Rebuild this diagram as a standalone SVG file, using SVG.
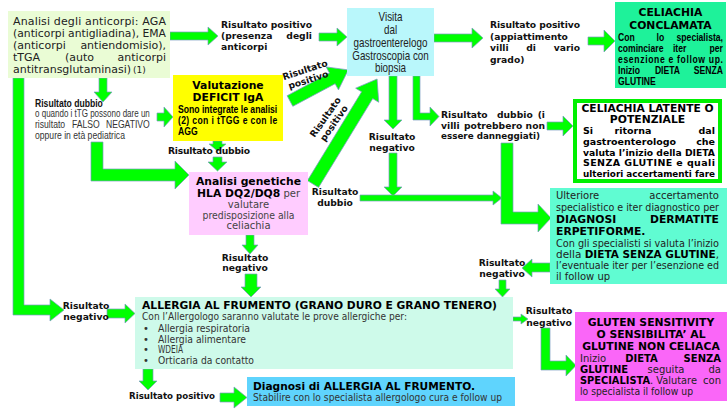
<svg xmlns="http://www.w3.org/2000/svg" width="728" height="410" viewBox="0 0 728 410">
<style>
text{font-family:"DejaVu Sans",Verdana,sans-serif}
.n text{font-family:"Liberation Sans",Arial,sans-serif}
.a{fill:#00ff00;stroke:#7a9cc0;stroke-width:0.7}
.lb{font-weight:bold;font-size:9.2px;fill:#111}
.tt{font-weight:bold;font-size:10.8px;fill:#000}
.m{text-anchor:middle}
.e{text-anchor:end}
</style>
<rect width="728" height="410" fill="#ffffff"/>
<g id="connectors">
<polygon class="a" points="170,32 208,32 208,27 218,36 208,45 208,40 170,40"/>
<polygon class="a" points="319,33 337,33 337,28 347,37 337,46 337,41 319,41"/>
<polygon class="a" points="434,34 472,34 472,28 483,38 472,48 472,42 434,42"/>
<polygon class="a" points="588,37 604,37 604,30 615,41 604,52 604,45 588,45"/>
<polygon class="a" points="99,78 107,78 107,92 112,92 103,102 94,92 99,92"/>
<polygon class="a" points="13,78 24,78 24,305 50,305 50,299 64,310 50,321 50,315 13,315"/>
<polygon class="a" points="157,113 164,113 164,107 173,117 164,127 164,121 157,121"/>
<polygon class="a" points="91,142 103,142 103,169 175,169 175,161 189,175 175,189 175,181 91,181"/>
<polygon class="a" points="213,141 222,141 222,144 226,144 217.5,151 209,144 213,144"/>
<polygon class="a" points="213,157 222,157 222,162 227,162 217.5,171 208,162 213,162"/>
<polygon class="a" transform="translate(290 101) rotate(-28.1)" points="0,-6 48,-6 48,-13 66,0 48,13 48,6 0,6"/>
<polygon class="a" transform="translate(313 184) rotate(-58.6)" points="0,-6.5 104,-6.5 104,-13.5 123,0 104,13.5 104,6.5 0,6.5"/>
<polygon class="a" points="389,76 397,76 397,120 402,120 393,129 384,120 389,120"/>
<polygon class="a" points="389,153 397,153 397,187 402,187 393,196 384,187 389,187"/>
<polygon class="a" points="360,195 493,195 493,191 502,198 493,205 493,201 360,201"/>
<polygon class="a" points="413,76 420,76 420,113 430,113 430,107 439,116.5 430,126 430,120 413,120"/>
<polygon class="a" points="547,122 563,122 563,116 573,126 563,136 563,130 547,130"/>
<polygon class="a" points="501,143 513,143 513,212 538,212 538,204 551,218 538,232 538,224 501,224"/>
<polygon class="a" points="550,263 532,263 532,259 522,268 532,277 532,272 550,272"/>
<polygon class="a" points="499,280 506,280 506,289 510,289 502.5,297 495,289 499,289"/>
<polygon class="a" points="513,317 521,317 521,314 528,319 521,324 521,321 513,321"/>
<polygon class="a" points="541,328 550,328 550,361 566,361 566,355 576,365.5 566,376 566,370 541,370"/>
<polygon class="a" points="143,369 153,369 153,381 157,381 148,390 139,381 143,381"/>
<polygon class="a" points="220,393 234,393 234,387 247,397.5 234,408 234,402 220,402"/>
<polygon class="a" points="107,309 125,309 125,304 135,313.5 125,323 125,318 107,318"/>
<polygon class="a" points="246,235 254,235 254,245 258,245 250,254 242,245 246,245"/>
<polygon class="a" points="245,274 257,274 257,287 261,287 251,297 241,287 245,287"/>
</g>
<g id="n-anticorpi">
<rect x="8" y="11" width="162" height="67" fill="#EAFCD5"/>
<g font-size="11" fill="#222">
<text x="13" y="25" textLength="153" lengthAdjust="spacing">Analisi degli anticorpi: AGA</text>
<text x="13" y="37" textLength="153" lengthAdjust="spacingAndGlyphs">(anticorpi antigliadina), EMA</text>
<text x="13" y="49">(anticorpi</text><text x="166" y="49" class="e">antiendomisio),</text>
<text x="13" y="61">tTGA</text><text x="65" y="61">(auto</text><text x="166" y="61" class="e">anticorpi</text>
<text x="13" y="73">antitransglutaminasi)<tspan font-size="9" dx="2">(1)</tspan></text>
</g>
</g>
<g id="n-visita">
<rect x="347" y="8" width="87" height="68" fill="#B9F7FB"/>
<g class="n" transform="translate(390.5 0) scale(0.82 1)" font-size="12" fill="#222" text-anchor="middle">
<text y="21">Visita</text><text y="34">dal</text><text y="47">gastroenterelogo</text><text y="60">Gastroscopia con</text><text y="72">biopsia</text>
</g>
</g>
<g id="n-conclamata">
<rect x="615" y="2" width="111" height="86" fill="#1EF29A"/>
<text x="670.5" y="16" class="tt m">CELIACHIA</text>
<text x="670.5" y="29" class="tt m">CONCLAMATA</text>
<g class="n" transform="translate(618 0) scale(0.82 1)" font-size="10.5" font-weight="bold" fill="#000">
<text x="0" y="41.5">Con</text><text x="47" y="41.5">lo</text><text x="128" y="41.5" text-anchor="end">specialista,</text>
<text x="0" y="52.3">cominciare</text><text x="67" y="52.3">iter</text><text x="128" y="52.3" text-anchor="end">per</text>
<text x="0" y="63.1" textLength="128" lengthAdjust="spacing">esenzione e follow up.</text>
<text x="0" y="73.9">Inizio</text><text x="45" y="73.9">DIETA</text><text x="128" y="73.9" text-anchor="end">SENZA</text>
<text x="0" y="84.7">GLUTINE</text>
</g>
</g>
<g id="n-deficit">
<rect x="173" y="75" width="110" height="66" fill="#FFFF00"/>
<text x="228" y="88.5" class="tt m">Valutazione</text>
<text x="228" y="101" class="tt m">DEFICIT IgA</text>
<g class="n" transform="translate(178 0) scale(0.82 1)" font-size="10.5" font-weight="bold" fill="#000">
<text y="113.5" textLength="121" lengthAdjust="spacingAndGlyphs">Sono integrate le analisi</text>
<text y="124.3" textLength="121" lengthAdjust="spacing">(2) con i tTGG e con le</text>
<text y="134.8">AGG</text>
</g>
</g>
<g id="n-genetiche">
<rect x="189" y="172" width="119" height="63" fill="#FFCCFF"/>
<text x="248.5" y="185" class="tt m">Analisi genetiche</text>
<text x="197" y="196.5" class="tt">HLA DQ2/DQ8<tspan font-weight="normal" fill="#444" font-size="10"> per</tspan></text>
<text x="248.5" y="207.5" class="m" font-size="10" fill="#444">valutare</text>
<text x="248.5" y="218.5" class="m" font-size="10" fill="#444" textLength="92" lengthAdjust="spacingAndGlyphs">predisposizione alla</text>
<text x="248.5" y="229" class="m" font-size="10" fill="#444">celiachia</text>
</g>
<g id="n-latente">
<rect x="575" y="101" width="145" height="80" fill="#ffffff" stroke="#00F000" stroke-width="4"/>
<text x="647.5" y="111.5" class="tt m" font-size="10.3" textLength="132" lengthAdjust="spacingAndGlyphs">CELIACHIA LATENTE O</text>
<text x="647.5" y="123" class="tt m" font-size="10.3">POTENZIALE</text>
<g font-size="9.5" font-weight="bold" fill="#000">
<text x="583" y="134">Si</text><text x="633" y="134" text-anchor="middle">ritorna</text><text x="715" y="134" text-anchor="end">dal</text>
<text x="583" y="144.8">gastroenterologo</text><text x="715" y="144.8" text-anchor="end">che</text>
<text x="583" y="155.6" textLength="132" lengthAdjust="spacingAndGlyphs">valuta l’inizio della DIETA</text>
<text x="583" y="166.4" textLength="132" lengthAdjust="spacing">SENZA GLUTINE e quali</text>
<text x="583" y="177.2" textLength="132" lengthAdjust="spacingAndGlyphs">ulteriori accertamenti fare</text>
</g>
</g>
<g id="n-dermatite">
<rect x="550" y="188" width="177" height="96" fill="#60FCD2"/>
<g font-size="10" fill="#222">
<text x="556" y="199">Ulteriore</text><text x="719" y="199" text-anchor="end">accertamento</text>
<text x="556" y="211" textLength="163" lengthAdjust="spacingAndGlyphs">specialistico e iter diagnostico per</text>
<text x="556" y="223" class="tt">DIAGNOSI</text><text x="719" y="223" class="tt" text-anchor="end">DERMATITE</text>
<text x="556" y="235" class="tt">ERPETIFORME.</text>
<text x="556" y="246.5" textLength="163" lengthAdjust="spacingAndGlyphs">Con gli specialisti si valuta l’inizio</text>
<text x="556" y="257.5" textLength="163" lengthAdjust="spacingAndGlyphs">della <tspan font-weight="bold" fill="#000">DIETA SENZA GLUTINE</tspan>,</text>
<text x="556" y="268.5" textLength="163" lengthAdjust="spacingAndGlyphs">l’eventuale iter per l’esenzione ed</text>
<text x="556" y="279.5">il follow up</text>
</g>
</g>
<g id="n-allergia">
<rect x="135" y="297" width="378" height="72" fill="#CEFAEA"/>
<text x="142" y="308.5" class="tt" textLength="355" lengthAdjust="spacingAndGlyphs">ALLERGIA AL FRUMENTO (GRANO DURO E GRANO TENERO)</text>
<g font-size="10" fill="#333">
<text x="142" y="319.5" textLength="265" lengthAdjust="spacingAndGlyphs">Con l’Allergologo saranno valutate le prove allergiche per:</text>
<text x="143" y="331.5">•</text><text x="158" y="331.5" textLength="92" lengthAdjust="spacingAndGlyphs">Allergia respiratoria</text>
<text x="143" y="342.5">•</text><text x="158" y="342.5" textLength="88" lengthAdjust="spacingAndGlyphs">Allergia alimentare</text>
<text x="143" y="353">•</text><text x="158" y="353" textLength="25" lengthAdjust="spacingAndGlyphs">WDEIA</text>
<text x="143" y="364">•</text><text x="158" y="364" textLength="96" lengthAdjust="spacingAndGlyphs">Orticaria da contatto</text>
</g>
</g>
<g id="n-diagnosi">
<rect x="247" y="377" width="268" height="29" fill="#5FD4FD"/>
<text x="253" y="389.5" class="tt" textLength="222" lengthAdjust="spacingAndGlyphs">Diagnosi di ALLERGIA AL FRUMENTO.</text>
<text x="253" y="400.5" font-size="10" fill="#333" textLength="249" lengthAdjust="spacingAndGlyphs">Stabilire con lo specialista allergologo cura e follow up</text>
</g>
<g id="n-gluten">
<rect x="575" y="312" width="152" height="89" fill="#FA66F8"/>
<text x="651" y="325.5" class="tt m">GLUTEN SENSITIVITY</text>
<text x="651" y="337.5" class="tt m">O SENSIBILITA’ AL</text>
<text x="651" y="350" class="tt m">GLUTINE NON CELIACA</text>
<g font-size="10" fill="#222">
<text x="580" y="362">Inizio</text><text x="641.5" y="362" text-anchor="middle" font-weight="bold" fill="#000">DIETA</text><text x="721" y="362" text-anchor="end" font-weight="bold" fill="#000">SENZA</text>
<text x="580" y="373" font-weight="bold" fill="#000">GLUTINE</text><text x="666" y="373" text-anchor="middle">seguita</text><text x="721" y="373" text-anchor="end">da</text>
<text x="580" y="384" textLength="117" lengthAdjust="spacingAndGlyphs"><tspan font-weight="bold" fill="#000">SPECIALISTA</tspan>. Valutare</text><text x="721" y="384" text-anchor="end">con</text>
<text x="580" y="395" textLength="113" lengthAdjust="spacingAndGlyphs">lo specialista il follow up</text>
</g>
</g>
<g id="labels">
<g class="lb">
<text x="221" y="28" textLength="91" lengthAdjust="spacing">Risultato positivo</text>
<text x="221" y="39">(presenza</text><text x="312" y="39" class="e">degli</text>
<text x="221" y="50">anticorpi</text>
<text x="490" y="28" textLength="90" lengthAdjust="spacing">Risultato positivo</text>
<text x="490" y="39.5">(appiattimento</text>
<text x="490" y="51">villi</text><text x="531" y="51" class="m">di</text><text x="580" y="51" class="e">vario</text>
<text x="490" y="62.5">grado)</text>
<text x="168" y="154" textLength="82" lengthAdjust="spacing">Risultato  dubbio</text>
<g transform="translate(306 73) rotate(-18)" text-anchor="middle"><text>Risultato</text><text y="10.5">positivo</text></g>
<g transform="translate(328 119) rotate(-55)" text-anchor="middle"><text>Risultato</text><text y="10.5">positivo</text></g>
<text x="392" y="140" class="m">Risultato</text><text x="392" y="151" class="m">negativo</text>
<text x="441" y="118">Risultato</text><text x="497" y="118">dubbio</text><text x="545" y="118" class="e">(i</text>
<text x="441" y="128.5">villi</text><text x="464" y="128.5">potrebbero</text><text x="545" y="128.5" class="e">non</text>
<text x="441" y="139" textLength="99" lengthAdjust="spacingAndGlyphs">essere danneggiati)</text>
<text x="335" y="195" class="m">Risultato</text><text x="335" y="205.5" class="m">dubbio</text>
<text x="245" y="260.5" class="m">Risultato</text><text x="245" y="271" class="m">negativo</text>
<text x="86" y="309" class="m">Risultato</text><text x="86" y="320" class="m">negativo</text>
<text x="502" y="265.5" class="m">Risultato</text><text x="502" y="277" class="m">negativo</text>
<text x="549" y="314" class="m">Risultato</text><text x="549" y="325.5" class="m">negativo</text>
<text x="129" y="399" textLength="86" lengthAdjust="spacingAndGlyphs">Risultato  positivo</text>
</g>
<g class="n" transform="translate(35 0) scale(0.82 1)" font-size="10.5">
<text y="107" font-weight="bold" fill="#111">Risultato dubbio</text>
<text y="117.5" fill="#333" textLength="140" lengthAdjust="spacingAndGlyphs">o quando i tTG possono dare un</text>
<text y="128" fill="#333">risultato</text><text x="45" y="128" fill="#333">FALSO</text><text x="140" y="128" fill="#333" text-anchor="end">NEGATIVO</text>
<text y="139" fill="#333">oppure in età pediatrica</text>
</g>
</g>
</svg>
